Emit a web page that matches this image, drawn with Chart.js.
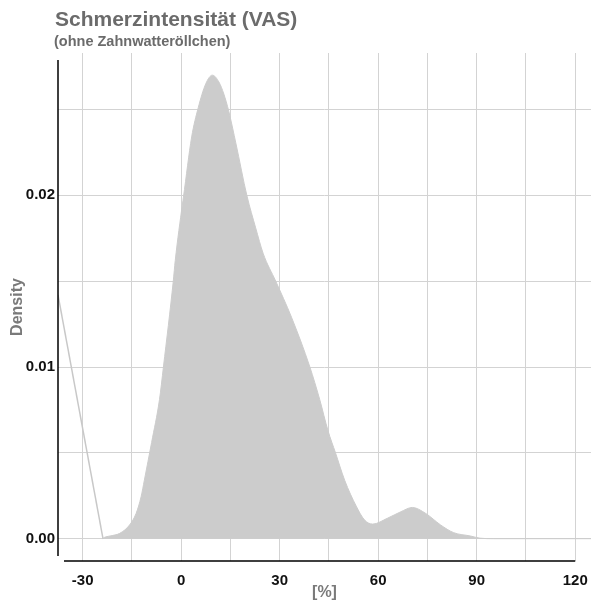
<!DOCTYPE html>
<html>
<head>
<meta charset="utf-8">
<script src="https://cdn.jsdelivr.net/npm/chart.js@4/dist/chart.umd.min.js"></script>
<style>
  html, body { margin: 0; padding: 0; background: #ffffff; }
  canvas { display: block; }
</style>
</head>
<body>
<canvas id="c" width="591" height="607"></canvas>
<script>
// Kernel density of pain intensity (VAS, %)
const densityX = [-24, -23.3, -21, -18.7, -15.7, -13.7, -12.2, -11.2, -9, -6.6, -5.4, -2.4, -1.8, 0.4, 0.7,
                  3.2, 5.2, 7.5, 9.5, 11.5, 13, 14.5, 16.7, 20, 22.7, 25, 28.8, 33.6, 39.2, 42.2, 44.7, 47,
                  49.8, 53.3, 55.8, 58.3, 62.8, 66.9, 70.4, 74.4, 79, 83, 88, 91, 95, 124.8];
const densityY = [0, 0.00008, 0.00018, 0.00031, 0.0008, 0.00148, 0.00244, 0.00341, 0.0056, 0.0081, 0.0100, 0.0150, 0.0162, 0.0195, 0.0199,
                  0.0234, 0.0251, 0.0265, 0.0270, 0.0266, 0.0259, 0.0249, 0.0230, 0.0200, 0.0181, 0.0166, 0.0150, 0.0129, 0.0100, 0.0081, 0.0063, 0.0050,
                  0.0034, 0.0019, 0.0011, 0.00085, 0.00119, 0.00157, 0.00182, 0.00148, 0.0008, 0.00035, 0.00016, 0.00003, 0, 0];

// Stray outline segment at the left edge
const edgeX = [-37.5, -23.8];
const edgeY = [0.0142, 0];

const xTicks = [-30, -15, 0, 15, 30, 45, 60, 75, 90, 105, 120];
const yTicks = [0, 0.005, 0.01, 0.015, 0.02, 0.025];

const titleText = 'Schmerzintensität (VAS)';
const subtitleText = '(ohne Zahnwatteröllchen)';
const xTitle = '[%]';
const yTitle = 'Density';

const toPoints = (xs, ys) => xs.map((x, i) => ({ x: x, y: ys[i] }));

const tickFont = { family: '"Liberation Sans", Arial, sans-serif', size: 15, weight: 'bold' };
const axisTitleFont = { family: '"Liberation Sans", Arial, sans-serif', size: 16, weight: 'bold' };

// Headings and offset axis lines
const decor = {
  id: 'decor',
  afterDraw(chart) {
    const ctx = chart.ctx;
    ctx.save();
    ctx.fillStyle = '#6b6b6b';
    ctx.textAlign = 'left';
    ctx.textBaseline = 'alphabetic';
    ctx.font = 'bold 21px "Liberation Sans", Arial, sans-serif';
    ctx.fillText(titleText, 55, 26);
    ctx.font = 'bold 14.5px "Liberation Sans", Arial, sans-serif';
    ctx.fillText(subtitleText, 54, 46);

    ctx.strokeStyle = '#000000';
    ctx.lineWidth = 1.5;
    ctx.beginPath();
    ctx.moveTo(58, 60);
    ctx.lineTo(58, 556);
    ctx.moveTo(64, 561);
    ctx.lineTo(chart.scales.x.getPixelForValue(120), 561);
    ctx.stroke();
    ctx.restore();
  }
};

const noPad = scale => {
  scale.paddingLeft = 0;
  scale.paddingRight = 0;
  scale.paddingTop = 0;
  scale.paddingBottom = 0;
};

new Chart(document.getElementById('c'), {
  type: 'line',
  data: {
    datasets: [
      {
        data: toPoints(edgeX, edgeY),
        borderColor: '#c8c8c8',
        borderWidth: 1.5,
        pointRadius: 0,
        fill: false,
        tension: 0
      },
      {
        data: toPoints(densityX, densityY),
        borderColor: '#cccccc',
        backgroundColor: '#cccccc',
        borderWidth: 1,
        pointRadius: 0,
        fill: 'origin',
        cubicInterpolationMode: 'monotone'
      }
    ]
  },
  options: {
    responsive: false,
    animation: false,
    devicePixelRatio: 1,
    layout: { padding: { top: 53, right: 0, bottom: 0, left: 0 } },
    plugins: {
      legend: { display: false },
      tooltip: { enabled: false }
    },
    scales: {
      x: {
        type: 'linear',
        min: -37.5,
        max: 124.8,
        afterBuildTicks(scale) { scale.ticks = xTicks.map(v => ({ value: v })); },
        afterFit(scale) { scale.height = 46; noPad(scale); },
        border: { display: false },
        grid: { color: '#d3d3d3', lineWidth: 1, drawTicks: false },
        ticks: {
          padding: 11,
          color: '#111111',
          font: tickFont,
          maxRotation: 0,
          callback: v => (v % 30 === 0 ? String(v) : '')
        },
        title: {
          display: true,
          text: xTitle,
          color: '#7a7a7a',
          font: axisTitleFont,
          padding: { top: 0, bottom: 5 }
        }
      },
      y: {
        type: 'linear',
        min: -0.0013,
        max: 0.02829,
        afterBuildTicks(scale) { scale.ticks = yTicks.map(v => ({ value: v })); },
        afterFit(scale) { scale.width = 58; noPad(scale); },
        border: { display: false },
        grid: { color: '#d3d3d3', lineWidth: 1, drawTicks: false },
        ticks: {
          padding: 3,
          color: '#111111',
          font: tickFont,
          callback: v => {
            const k = Math.round(v * 1000);
            return k % 10 === 0 ? (k / 1000).toFixed(2) : '';
          }
        },
        title: {
          display: true,
          text: yTitle,
          color: '#7a7a7a',
          font: axisTitleFont,
          padding: { top: 8, bottom: 0 }
        }
      }
    }
  },
  plugins: [decor]
});
</script>
</body>
</html>
